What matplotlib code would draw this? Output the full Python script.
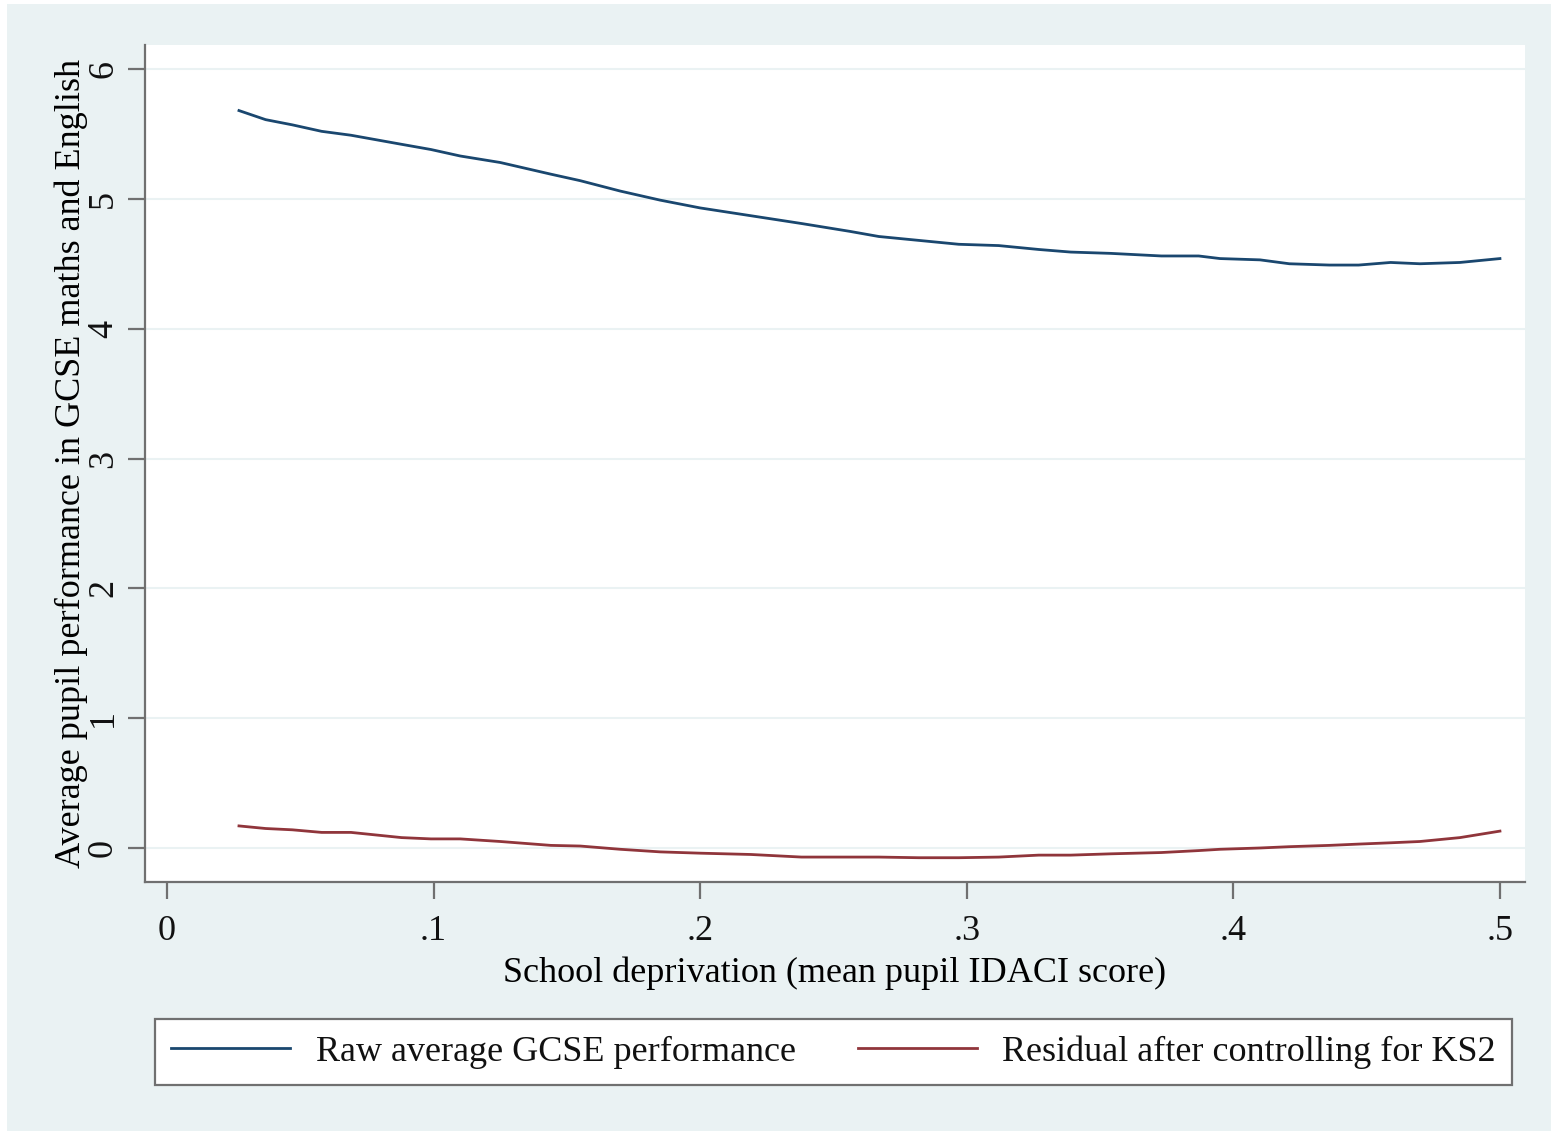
import numpy as np
import matplotlib.pyplot as plt
from matplotlib.patches import Rectangle

# school deprivation (x) and the two smoothed series
idaci = [0.027, 0.037, 0.047, 0.058, 0.069, 0.088, 0.099, 0.110, 0.125, 0.144,
         0.155, 0.170, 0.185, 0.200, 0.219, 0.238, 0.256, 0.267, 0.282, 0.297,
         0.312, 0.327, 0.339, 0.354, 0.373, 0.387, 0.395, 0.410, 0.421, 0.436,
         0.447, 0.459, 0.470, 0.485, 0.500]
raw_gcse = [5.68, 5.61, 5.57, 5.52, 5.49, 5.42, 5.38, 5.33, 5.28, 5.19,
            5.14, 5.06, 4.99, 4.93, 4.87, 4.81, 4.75, 4.71, 4.68, 4.65,
            4.64, 4.61, 4.59, 4.58, 4.56, 4.56, 4.54, 4.53, 4.50, 4.49,
            4.49, 4.51, 4.50, 4.51, 4.54]
resid_ks2 = [0.17, 0.15, 0.14, 0.12, 0.12, 0.08, 0.07, 0.07, 0.05, 0.02,
             0.015, -0.01, -0.03, -0.04, -0.05, -0.07, -0.07, -0.07, -0.075, -0.075,
             -0.07, -0.055, -0.055, -0.045, -0.035, -0.02, -0.01, 0.0, 0.01, 0.02,
             0.03, 0.04, 0.05, 0.08, 0.13]

xticks = [0, 0.1, 0.2, 0.3, 0.4, 0.5]
xticklabels = ["0", ".1", ".2", ".3", ".4", ".5"]
yticks = [0, 1, 2, 3, 4, 5, 6]

bg = "#EAF2F3"
fs = 26
plt.rcParams["font.family"] = ["Liberation Serif", "DejaVu Serif"]
plt.rcParams["text.color"] = "#111111"

fig = plt.figure(figsize=(15.51, 11.31), dpi=100, facecolor="white")
fig.patches.append(Rectangle((7 / 1551, 0), 1, 1 - 4 / 1131, transform=fig.transFigure,
                             facecolor=bg, edgecolor="none", zorder=-10))
ax = fig.add_axes([145 / 1551, 1 - 882 / 1131, 1380 / 1551, 837 / 1131])
ax.set_facecolor("white")

ax.plot(idaci, raw_gcse, color="#1a476f", lw=2, label="Raw average GCSE performance")
ax.plot(idaci, resid_ks2, color="#90353b", lw=2, label="Residual after controlling for KS2")

ax.set_xlim(-0.00825, 0.5094)
ax.set_ylim(-0.262, 6.185)
ax.set_xticks(xticks)
ax.set_xticklabels(xticklabels)
ax.set_yticks(yticks)
ax.set_yticklabels([str(v) for v in yticks], rotation=90, va="center")
ax.grid(axis="y", color="#EAF2F3", lw=1.5)
ax.set_axisbelow(True)

for s in ["top", "right"]:
    ax.spines[s].set_visible(False)
for s in ["left", "bottom"]:
    ax.spines[s].set_color("#707070")
    ax.spines[s].set_linewidth(1.6)
ax.tick_params(length=12, width=1.6, color="#707070", labelsize=fs, labelcolor="#111111")
ax.tick_params(axis="x", pad=12)
ax.tick_params(axis="y", pad=6)

ax.set_xlabel("School deprivation (mean pupil IDACI score)", fontsize=fs)
ax.xaxis.set_label_coords(0.5, -0.089)
ax.set_ylabel("Average pupil performance in GCSE maths and English", fontsize=fs)
ax.yaxis.set_label_coords(-0.041, 0.5)

leg = ax.legend(loc="lower left", bbox_to_anchor=(155 / 1551, 1 - 1085 / 1131, 1357 / 1551, 75 / 1131),
                bbox_transform=fig.transFigure, mode="expand", ncol=2, fontsize=fs,
                frameon=True, fancybox=False, edgecolor="#707070", framealpha=1,
                handlelength=3.3, borderaxespad=0, borderpad=0.45, handletextpad=0.7)
leg.get_frame().set_linewidth(1.6)

fig.savefig("out.png", dpi=100, facecolor=fig.get_facecolor())
